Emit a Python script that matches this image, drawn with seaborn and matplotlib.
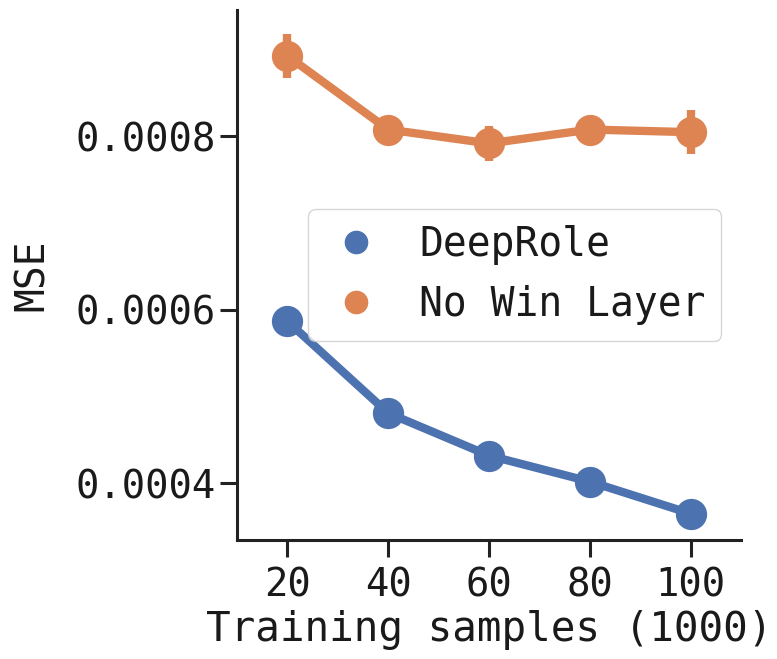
import matplotlib
matplotlib.use("Agg")
import matplotlib.pyplot as plt
import seaborn as sns
import pandas as pd
import numpy as np
from matplotlib.lines import Line2D

samples = [20, 40, 60, 80, 100]
models = ["DeepRole", "No Win Layer"]
deeprole_mse = [0.000587, 0.000481, 0.000432, 0.000402, 0.000365]
deeprole_err = [0.000005, 0.000005, 0.000005, 0.000004, 0.000004]
nowin_mse = [0.000893, 0.000808, 0.000792, 0.000808, 0.000805]
nowin_err = [0.000025, 0.000010, 0.000020, 0.000010, 0.000025]

sns.set_theme(style="ticks")
plt.rcParams['font.family'] = ['DejaVu Sans Mono', 'DejaVu Sans']
plt.rcParams['text.color'] = '#1a1a1a'
plt.rcParams['axes.labelcolor'] = '#1a1a1a'
plt.rcParams['xtick.labelcolor'] = '#1a1a1a'
plt.rcParams['ytick.labelcolor'] = '#1a1a1a'
colors = sns.color_palette("deep")[:2]

df = pd.DataFrame({
    "samples": samples * 2,
    "mse": deeprole_mse + nowin_mse,
    "model": [models[0]] * 5 + [models[1]] * 5,
})

fig = plt.figure(figsize=(7.77, 6.59), dpi=100)
ax = fig.add_axes([0.305, 0.181, 0.649, 0.804])

sns.pointplot(data=df, x="samples", y="mse", hue="model", palette=colors,
              errorbar=None, markersize=18, linewidth=6, ax=ax, legend=False)

for vals, errs, c in [(deeprole_mse, deeprole_err, colors[0]),
                      (nowin_mse, nowin_err, colors[1])]:
    ax.errorbar(np.arange(len(samples)), vals, yerr=errs, fmt="none",
                ecolor=c, elinewidth=6, capsize=0, zorder=1.5)

ax.set_ylim(0.000335, 0.000946)
ax.set_xlim(-0.5, 4.5)
ax.set_yticks([0.0004, 0.0006, 0.0008])
ax.set_yticklabels(["0.0004", "0.0006", "0.0008"])
ax.set_xlabel("Training samples (1000)", fontsize=29.5, labelpad=4)
ax.set_ylabel("MSE", fontsize=28.5, labelpad=16)
ax.tick_params(axis="both", labelsize=28, length=12, width=2.2, color="#222222")
ax.tick_params(axis="x", pad=7)
for s in ["left", "bottom"]:
    ax.spines[s].set_linewidth(2.2)
    ax.spines[s].set_color("#222222")
sns.despine(ax=ax)

handles = [Line2D([], [], linestyle="none", marker="o", markersize=16,
                  color=c) for c in colors]
ax.legend(handles, models, loc="center right", fontsize=28.5,
          handlelength=1.6, frameon=True)

fig.savefig("out.png", dpi=100)
